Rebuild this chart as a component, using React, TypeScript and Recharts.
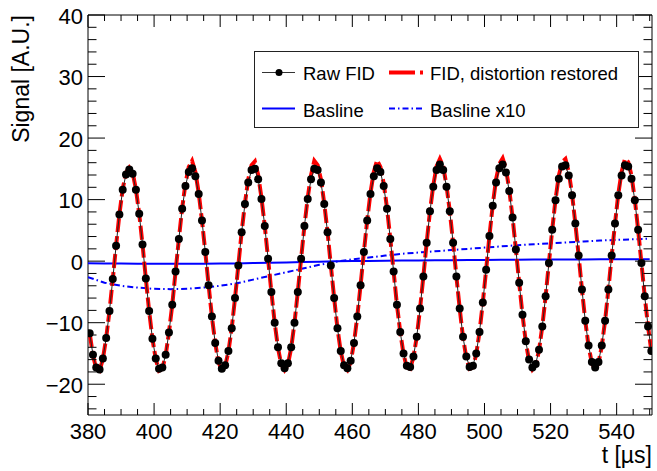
import { ComposedChart, Line, XAxis, YAxis, ReferenceArea } from "recharts";

const FONT = "'Liberation Sans', Arial, Helvetica, sans-serif";

// sampling of the FID traces (µs)
const FID_T0 = 380.5;
const FID_DT = 1;

const rawFid = [
  -11.7, -15.2, -17.3, -17.6, -15.8, -12.5, -8.1, -2.9, 2.5, 7.6,
  11.6, 14.1, 14.9, 14.2, 11.6, 7.7, 2.7, -2.8, -8.1, -12.6,
  -15.8, -17.5, -17.3, -15.2, -11.6, -7.1, -1.7, 3.6, 8.5, 12.2,
  14.5, 15.1, 13.8, 10.9, 6.6, 1.5, -3.9, -9.0, -13.3, -16.2,
  -17.5, -16.9, -14.6, -10.9, -6.0, -0.7, 4.7, 9.3, 12.8, 14.8,
  15.0, 13.3, 10.1, 5.7, 0.4, -5.0, -10.0, -14.0, -16.6, -17.4,
  -16.6, -14.0, -10.0, -5.0, 0.4, 5.7, 10.1, 13.3, 15.0, 14.8,
  12.8, 9.3, 4.7, -0.7, -6.0, -10.9, -14.6, -16.9, -17.4, -16.2,
  -13.3, -9.0, -3.9, 1.5, 6.6, 10.9, 13.8, 15.1, 14.5, 12.2,
  8.5, 3.6, -1.7, -7.1, -11.5, -15.0, -17.0, -17.2, -15.5, -12.3,
  -7.7, -2.5, 3.0, 8.1, 12.1, 14.8, 15.7, 14.8, 12.1, 8.1,
  3.0, -2.5, -7.7, -12.3, -15.5, -17.2, -17.0, -15.0, -11.5, -6.7,
  -1.4, 4.1, 9.0, 12.8, 15.1, 15.7, 14.4, 11.4, 7.1, 1.9,
  -3.5, -8.7, -13.0, -16.0, -17.3, -16.7, -14.4, -10.6, -5.7, -0.3,
  5.1, 9.9, 13.4, 15.4, 15.6, 13.9, 10.7, 6.1, 0.9, -4.6,
  -9.7, -13.7, -16.4, -17.3, -16.4, -13.7, -9.7, -4.6, 0.9, 6.1,
  10.7, 13.9, 15.6, 15.4, 13.4, 9.9, 5.1, -0.3, -5.7, -10.6,
  -14.6,
];

const restoredFid = [
  -11.7, -15.3, -17.5, -17.8, -15.9, -12.5, -8.1, -2.9, 2.5, 7.6,
  11.7, 14.4, 15.2, 14.4, 11.7, 7.7, 2.7, -2.8, -8.1, -12.6,
  -15.9, -17.8, -17.5, -15.3, -11.6, -7.1, -1.7, 3.6, 8.6, 12.6,
  15.3, 16.3, 14.5, 11.1, 6.6, 1.5, -3.9, -9.0, -13.3, -16.4,
  -17.8, -17.1, -14.7, -10.9, -6.0, -0.7, 4.7, 9.4, 13.3, 15.6,
  16.2, 14.0, 10.3, 5.7, 0.4, -5.0, -10.0, -14.1, -16.8, -17.7,
  -16.8, -14.1, -10.0, -5.0, 0.4, 5.7, 10.3, 14.0, 16.3, 15.6,
  13.3, 9.4, 4.7, -0.7, -6.0, -10.9, -14.7, -17.1, -17.7, -16.4,
  -13.3, -9.0, -3.9, 1.5, 6.6, 11.1, 14.5, 16.4, 15.3, 12.6,
  8.6, 3.6, -1.7, -7.1, -11.5, -15.1, -17.3, -17.5, -15.6, -12.3,
  -7.7, -2.5, 3.0, 8.1, 12.3, 15.4, 16.6, 15.4, 12.3, 8.1,
  3.0, -2.5, -7.7, -12.4, -15.7, -17.5, -17.3, -15.1, -11.5, -6.7,
  -1.4, 4.1, 9.1, 13.3, 15.8, 16.7, 15.0, 11.6, 7.1, 1.9,
  -3.5, -8.7, -13.1, -16.2, -17.6, -16.9, -14.5, -10.6, -5.7, -0.3,
  5.1, 10.0, 13.9, 16.1, 16.6, 14.5, 10.9, 6.1, 0.9, -4.6,
  -9.7, -13.8, -16.6, -17.6, -16.6, -13.8, -9.7, -4.6, 0.9, 6.1,
  10.9, 14.5, 16.6, 16.1, 13.9, 10.0, 5.1, -0.3, -5.7, -10.6,
  -14.6,
];

// baselines, sampled every 5 µs
const BASE_T0 = 380;
const BASE_DT = 5;

const baseline = [
  -0.35, -0.38, -0.4, -0.42, -0.43, -0.44, -0.43, -0.42, -0.4, -0.37,
  -0.32, -0.26, -0.2, -0.14, -0.08, -0.03, 0.01, 0.04, 0.07, 0.1,
  0.12, 0.14, 0.16, 0.18, 0.2, 0.22, 0.24, 0.25, 0.26, 0.27,
  0.28, 0.29, 0.3, 0.31, 0.32,
];

const baselineX10 = [
  -2.6, -3.5, -4.0, -4.3, -4.5, -4.55, -4.5, -4.3, -4.0, -3.6,
  -3.0, -2.4, -1.8, -1.2, -0.6, -0.1, 0.3, 0.6, 0.9, 1.2,
  1.4, 1.6, 1.8, 2.0, 2.2, 2.4, 2.6, 2.75, 2.9, 3.05,
  3.2, 3.35, 3.45, 3.55, 3.65,
];

const xTicks = [
  380, 385, 390, 395, 400, 405, 410, 415, 420, 425, 430, 435, 440, 445, 450,
  455, 460, 465, 470, 475, 480, 485, 490, 495, 500, 505, 510, 515, 520, 525,
  530, 535, 540, 545, 550,
];
const yTicks = [
  -24, -22, -20, -18, -16, -14, -12, -10, -8, -6, -4, -2, 0, 2, 4, 6, 8, 10,
  12, 14, 16, 18, 20, 22, 24, 26, 28, 30, 32, 34, 36, 38, 40,
];

const X_DOMAIN: [number, number] = [380, 550.7];
const Y_DOMAIN: [number, number] = [-25, 40];

const fidData = rawFid.map((v, i) => ({
  t: FID_T0 + i * FID_DT,
  raw: v,
  restored: restoredFid[i],
}));

const baseData = baseline.map((v, i) => ({
  t: BASE_T0 + i * BASE_DT,
  base: v,
  base10: baselineX10[i],
}));

// plot frame in pixels
const W = 657;
const H = 471;
const PL = 88;
const PR = 652;
const PT = 15;
const PB = 415;

const XTick = ({ x, payload }: any) => {
  const v = payload.value;
  const major = v % 20 === 0;
  const len = major ? 12 : 6;
  return (
    <g>
      <line x1={x} x2={x} y1={PB} y2={PB - len} stroke="#000" />
      <line x1={x} x2={x} y1={PT} y2={PT + len} stroke="#000" />
      {major && (
        <text x={x} y={PB + 23.5} textAnchor="middle" fontSize={22} fill="#000" fontFamily={FONT}>
          {v}
        </text>
      )}
    </g>
  );
};

const YTick = ({ y, payload }: any) => {
  const v = payload.value;
  const major = v % 10 === 0;
  const len = major ? 17 : 8.5;
  const label = v < 0 ? `\u2212${-v}` : `${v}`;
  return (
    <g>
      <line x1={PL} x2={PL + len} y1={y} y2={y} stroke="#000" />
      <line x1={PR} x2={PR - len} y1={y} y2={y} stroke="#000" />
      {major && (
        <text x={83} y={y + 8.5} textAnchor="end" fontSize={22} fill="#000" fontFamily={FONT}>
          {label}
        </text>
      )}
    </g>
  );
};

const LegendBox = () => (
  <svg
    width={386}
    height={78}
    style={{ position: "absolute", left: 254, top: 51 }}
    fontFamily={FONT}
  >
    <rect x={0.5} y={0.5} width={384} height={76} fill="#fff" stroke="#222" />
    <line x1={8} x2={41} y1={21.5} y2={21.5} stroke="#333" strokeWidth={1} />
    <circle cx={25} cy={21.5} r={3.5} fill="#000" />
    <text x={49} y={29} fontSize={18.5} fill="#000">Raw FID</text>
    <line x1={135} x2={169} y1={21.5} y2={21.5} stroke="#ff0000" strokeWidth={4} strokeDasharray="26 5" />
    <text x={176} y={29} fontSize={18.5} fill="#000">FID, distortion restored</text>
    <line x1={8} x2={41} y1={57.5} y2={57.5} stroke="#0000ff" strokeWidth={2} />
    <text x={49} y={66} fontSize={18.5} fill="#000">Basline</text>
    <line x1={135} x2={169} y1={57.5} y2={57.5} stroke="#0000ff" strokeWidth={2} strokeDasharray="6 3 1.5 3" />
    <text x={176} y={66} fontSize={18.5} fill="#000">Basline x10</text>
  </svg>
);

export default function App() {
  return (
    <div style={{ position: "absolute", left: 0, top: 0, width: W, height: H, background: "#fff" }}>
      <ComposedChart
        width={W}
        height={H}
        data={fidData}
        margin={{ top: PT, right: W - PR, bottom: 0, left: 0 }}
      >
        <XAxis
          dataKey="t"
          type="number"
          domain={X_DOMAIN}
          allowDataOverflow
          ticks={xTicks}
          interval={0}
          height={H - PB}
          axisLine={false}
          tickLine={false}
          tick={<XTick />}
        />
        <YAxis
          type="number"
          domain={Y_DOMAIN}
          allowDataOverflow
          ticks={yTicks}
          interval={0}
          width={PL}
          axisLine={false}
          tickLine={false}
          tick={<YTick />}
        />
        <Line
          data={baseData}
          dataKey="base"
          type="linear"
          stroke="#0000ff"
          strokeWidth={2}
          dot={false}
          isAnimationActive={false}
        />
        <Line
          data={baseData}
          dataKey="base10"
          type="linear"
          stroke="#0000ff"
          strokeWidth={2}
          strokeDasharray="6 3 1.5 3"
          dot={false}
          isAnimationActive={false}
        />
        <Line
          dataKey="restored"
          type="linear"
          stroke="#ff0000"
          strokeWidth={4}
          strokeDasharray="14 4"
          dot={false}
          isAnimationActive={false}
        />
        <Line
          dataKey="raw"
          type="linear"
          stroke="#222"
          strokeWidth={1}
          dot={{ r: 4, fill: "#000", stroke: "none" }}
          isAnimationActive={false}
        />
        <ReferenceArea
          x1={X_DOMAIN[0]}
          x2={X_DOMAIN[1]}
          y1={Y_DOMAIN[0]}
          y2={Y_DOMAIN[1]}
          fill="none"
          stroke="#000"
          strokeWidth={1}
          ifOverflow="visible"
        />
      </ComposedChart>
      <svg
        width={W}
        height={H}
        style={{ position: "absolute", left: 0, top: 0, pointerEvents: "none" }}
        fontFamily={FONT}
      >
        <text
          x={29}
          y={PT}
          transform={`rotate(-90, 29, ${PT})`}
          textAnchor="end"
          fontSize={23}
          fill="#000"
        >
          Signal [A.U.]
        </text>
        <text x={PR} y={463} textAnchor="end" fontSize={23} fill="#000">
          t [µs]
        </text>
      </svg>
      <LegendBox />
    </div>
  );
}
